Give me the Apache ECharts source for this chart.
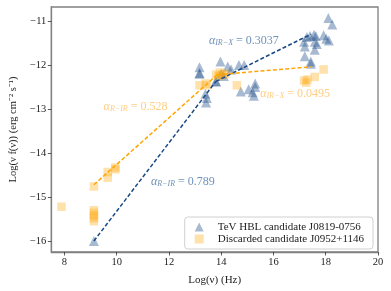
<!DOCTYPE html>
<html><head><meta charset="utf-8">
<script src="https://cdn.jsdelivr.net/npm/echarts@6/dist/echarts.min.js"></script>
<style>html,body{margin:0;padding:0;background:#fff}#c{width:391px;height:291px}</style>
</head><body><div id="c"></div>
<script>
const xTicks = [8, 10, 12, 14, 16, 18, 20];
const yTicks = [-16, -15, -14, -13, -12, -11];
const hblName = 'TeV HBL candidate J0819-0756';
const discName = 'Discarded candidate J0952+1146';
const hblX = [9.13,13.17,13.17,13.17,13.4,13.45,13.42,13.8,13.8,13.97,14.0,14.1,14.25,14.38,14.68,14.88,14.75,15.05,15.2,15.25,15.3,15.3,17.43,17.43,17.2,17.28,17.4,17.55,17.62,17.92,18.02,18.12,17.17,17.2,17.58,17.66,17.58,18.1,18.25];
const hblY = [-16.0,-12.05,-12.18,-12.2,-12.65,-12.75,-12.85,-12.38,-12.36,-11.92,-12.2,-12.25,-12.03,-12.1,-12.0,-12.0,-12.6,-12.55,-12.62,-12.7,-12.42,-12.5,-11.92,-11.97,-11.8,-11.36,-11.34,-11.31,-11.34,-11.32,-11.4,-11.44,-11.47,-11.58,-11.47,-11.52,-11.65,-10.93,-11.08];
const discX = [7.89,9.13,9.13,9.13,9.13,9.13,9.13,9.66,9.66,9.95,9.95,13.17,13.45,13.4,13.8,13.95,14.05,14.15,13.9,14.6,17.17,17.3,17.25,17.58,17.92];
const discY = [-15.22,-14.76,-15.3,-15.36,-15.42,-15.48,-15.55,-14.43,-14.56,-14.33,-14.37,-12.46,-12.46,-12.42,-12.22,-12.17,-12.22,-12.2,-12.25,-12.46,-12.35,-12.33,-12.4,-12.27,-12.1];
const hblFitRIR = [[9.13,-16.0],[13.8,-12.37]];
const hblFitIRX = [[13.8,-12.37],[17.43,-11.3]];
const discFitRIR = [[9.13,-14.72],[13.85,-12.22]];
const discFitIRX = [[13.85,-12.22],[17.43,-12.04]];
const annotations = [
  {pos:[13.53,-11.43], sub:'IR−X', val:'0.3037', c:'b'},
  {pos:[9.5,-12.93], sub:'R−IR', val:'0.528', c:'o'},
  {pos:[15.49,-12.64], sub:'IR−X', val:'0.0495', c:'o'},
  {pos:[11.31,-14.64], sub:'R−IR', val:'0.789', c:'b'}
];
const FONT = 'Liberation Serif';
const BLUE = '#1a4a86', ORANGE = '#ffa500';
const BLUE_TXT = '#4b76a8', ORANGE_TXT = '#ffc163';
const minus = v => (v < 0 ? '\u2212' + Math.abs(v) : '' + v);
const zip = (a, b) => a.map((v, i) => [v, b[i]]);
function annSeries(col) {
  const color = col === 'b' ? BLUE_TXT : ORANGE_TXT;
  return {
    type: 'scatter', symbolSize: 0, silent: true, z: 5,
    data: annotations.filter(a => a.c === col).map(a => ({value: a.pos, sub: a.sub, v: a.val})),
    label: {
      show: true, position: 'right', distance: 0,
      formatter: p => '{a|α}{s|' + p.data.sub + '}{t| = ' + p.data.v + '}',
      rich: {
        a: {fontFamily: FONT, fontStyle: 'italic', fontSize: 12, color, verticalAlign: 'bottom', lineHeight: 14},
        s: {fontFamily: FONT, fontStyle: 'italic', fontSize: 8, color, verticalAlign: 'bottom', lineHeight: 11},
        t: {fontFamily: FONT, fontSize: 12, color, verticalAlign: 'bottom', lineHeight: 14}
      }
    }
  };
}
const lineStyleB = {color: BLUE, width: 1.5, type: [4, 2.2]};
const lineStyleO = {color: ORANGE, width: 1.5, type: [4, 2.2]};
const chart = echarts.init(document.getElementById('c'), null, {renderer: 'canvas'});
chart.setOption({
  animation: false,
  textStyle: {fontFamily: FONT},
  grid: {left: 46, right: 13, top: 7, bottom: 37, show: true, borderColor: '#808080', borderWidth: 1.3, backgroundColor: 'transparent'},
  xAxis: {
    type: 'value', min: 7.5, max: 20,
    name: 'Log(ν) (Hz)', nameLocation: 'middle', nameGap: 23,
    nameTextStyle: {fontFamily: FONT, fontSize: 11, color: '#222'},
    axisLine: {show: true, lineStyle: {color: '#808080', width: 1.3}},
    axisTick: {show: true, length: 3.5, customValues: xTicks, lineStyle: {color: '#333', width: 0.8}},
    axisLabel: {customValues: xTicks, fontFamily: FONT, fontSize: 10.5, color: '#222', margin: 5, formatter: minus},
    splitLine: {show: false}
  },
  yAxis: {
    type: 'value', min: -16.25, max: -10.68,
    name: 'Log(ν f(ν)) (erg cm⁻² s⁻¹)', nameLocation: 'middle', nameGap: 30, nameRotate: 90,
    nameTextStyle: {fontFamily: FONT, fontSize: 10.5, color: '#222'},
    axisLine: {show: true, lineStyle: {color: '#808080', width: 1.3}},
    axisTick: {show: true, length: 3.5, customValues: yTicks, lineStyle: {color: '#333', width: 0.8}},
    axisLabel: {customValues: yTicks, fontFamily: FONT, fontSize: 10.5, color: '#222', margin: 5, formatter: minus},
    splitLine: {show: false}
  },
  legend: {
    orient: 'vertical', right: 18, bottom: 42,
    data: [{name: hblName, icon: 'triangle'}, {name: discName, icon: 'rect'}],
    itemWidth: 9, itemHeight: 9, itemGap: 0,
    padding: [4, 9, 4, 10],
    borderColor: '#d0d0d0', borderWidth: 1, borderRadius: 3, backgroundColor: 'rgba(255,255,255,0.85)',
    textStyle: {fontFamily: FONT, fontSize: 11, color: '#222', lineHeight: 12, padding: [0, 0, 0, 9]}
  },
  series: [
    {name: hblName, type: 'scatter', symbol: 'triangle', symbolSize: 10, data: zip(hblX, hblY), itemStyle: {color: BLUE, opacity: 0.38}, z: 3},
    {name: discName, type: 'scatter', symbol: 'rect', symbolSize: 8.5, data: zip(discX, discY), itemStyle: {color: ORANGE, opacity: 0.33}, z: 3},
    {type: 'line', data: hblFitRIR, symbol: 'none', lineStyle: lineStyleB, z: 4, silent: true},
    {type: 'line', data: hblFitIRX, symbol: 'none', lineStyle: lineStyleB, z: 4, silent: true},
    {type: 'line', data: discFitRIR, symbol: 'none', lineStyle: lineStyleO, z: 4, silent: true},
    {type: 'line', data: discFitIRX, symbol: 'none', lineStyle: lineStyleO, z: 4, silent: true},
    annSeries('b'), annSeries('o')
  ]
});
</script></body></html>
